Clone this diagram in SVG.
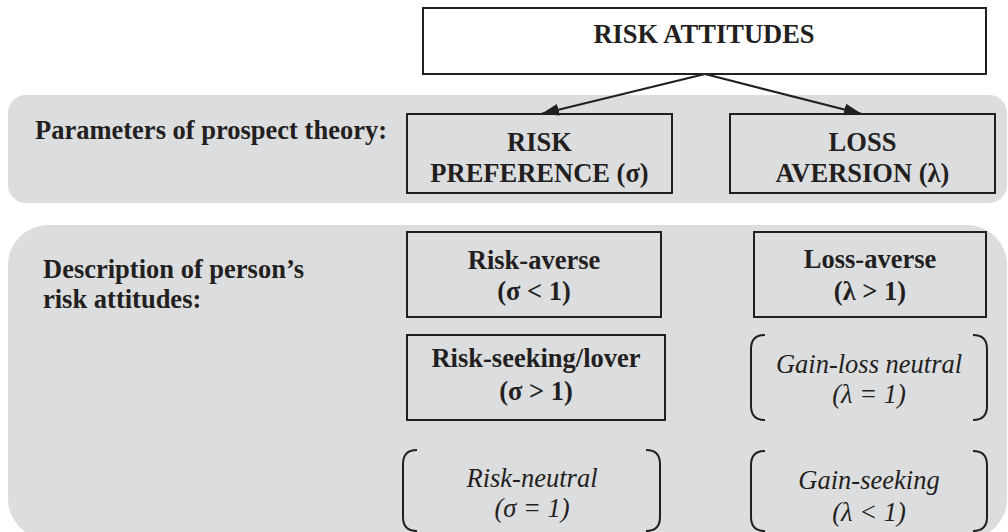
<svg xmlns="http://www.w3.org/2000/svg" width="1008" height="532" viewBox="0 0 1008 532">
  <defs>
    <style>
      .panel { fill: #dcdddf; stroke: none; }
      .box { fill: none; stroke: #231f20; stroke-width: 2; }
      .topbox { fill: #ffffff; stroke: #231f20; stroke-width: 2; }
      .bracket { fill: none; stroke: #231f20; stroke-width: 2; }
      .edge { fill: none; stroke: #231f20; stroke-width: 2.2; }
      text { font-family: "Liberation Serif", "Times New Roman", serif; font-size: 26.5px; fill: #231f20; }
      .b { font-weight: bold; }
      .i { font-style: italic; }
      .c { text-anchor: middle; }
    </style>
    <marker id="arrow" viewBox="0 0 18 12" refX="18" refY="6" markerWidth="18" markerHeight="12" markerUnits="userSpaceOnUse" orient="auto">
      <path d="M0,0 L18,6 L0,12 Z" fill="#231f20"/>
    </marker>
  </defs>

  <!-- background bands -->
  <rect class="panel" x="8" y="95" width="999" height="108" rx="18"/>
  <rect class="panel" x="8" y="225" width="999" height="314" rx="40"/>

  <!-- row labels -->
  <g id="label-parameters">
    <text class="b" x="35" y="139">Parameters of prospect theory:</text>
  </g>
  <g id="label-description">
    <text class="b" x="43" y="278">Description of person’s</text>
    <text class="b" x="43" y="308">risk attitudes:</text>
  </g>

  <!-- connectors -->
  <g id="connectors">
    <line class="edge" x1="705" y1="74" x2="541" y2="114" marker-end="url(#arrow)"/>
    <line class="edge" x1="705" y1="74" x2="862" y2="114" marker-end="url(#arrow)"/>
  </g>

  <!-- nodes -->
  <g id="risk-attitudes">
    <rect class="topbox" x="423" y="8" width="563" height="66"/>
    <text class="b c" x="704" y="43">RISK ATTITUDES</text>
  </g>

  <g id="risk-preference">
    <rect class="box" x="407" y="114" width="265" height="79"/>
    <text class="b c" x="539.5" y="151">RISK</text>
    <text class="b c" x="539.5" y="182">PREFERENCE (σ)</text>
  </g>

  <g id="loss-aversion">
    <rect class="box" x="730" y="114" width="265" height="79"/>
    <text class="b c" x="862.5" y="151">LOSS</text>
    <text class="b c" x="862.5" y="182">AVERSION (λ)</text>
  </g>

  <g id="risk-averse">
    <rect class="box" x="407" y="232" width="254" height="85"/>
    <text class="b c" x="534" y="269">Risk-averse</text>
    <text class="b c" x="534" y="300">(σ &lt; 1)</text>
  </g>

  <g id="risk-seeking">
    <rect class="box" x="407" y="335" width="258" height="85"/>
    <text class="b c" x="536" y="367">Risk-seeking/lover</text>
    <text class="b c" x="536" y="400">(σ &gt; 1)</text>
  </g>

  <g id="risk-neutral">
    <path class="bracket" d="M417,450 Q403,450 403,464 L403,517 Q403,531 417,531"/>
    <path class="bracket" d="M646,450 Q660,450 660,464 L660,517 Q660,531 646,531"/>
    <text class="i c" x="532" y="487">Risk-neutral</text>
    <text class="i c" x="532" y="517">(σ = 1)</text>
  </g>

  <g id="loss-averse">
    <rect class="box" x="754" y="232" width="232" height="85"/>
    <text class="b c" x="870" y="268">Loss-averse</text>
    <text class="b c" x="870" y="300">(λ &gt; 1)</text>
  </g>

  <g id="gain-loss-neutral">
    <path class="bracket" d="M765,335 Q751,335 751,349 L751,406 Q751,420 765,420"/>
    <path class="bracket" d="M973,335 Q987,335 987,349 L987,406 Q987,420 973,420"/>
    <text class="i c" x="869" y="373">Gain-loss neutral</text>
    <text class="i c" x="869" y="403">(λ = 1)</text>
  </g>

  <g id="gain-seeking">
    <path class="bracket" d="M765,451 Q751,451 751,465 L751,517 Q751,531 765,531"/>
    <path class="bracket" d="M973,451 Q987,451 987,465 L987,517 Q987,531 973,531"/>
    <text class="i c" x="869" y="489">Gain-seeking</text>
    <text class="i c" x="869" y="521">(λ &lt; 1)</text>
  </g>
</svg>
